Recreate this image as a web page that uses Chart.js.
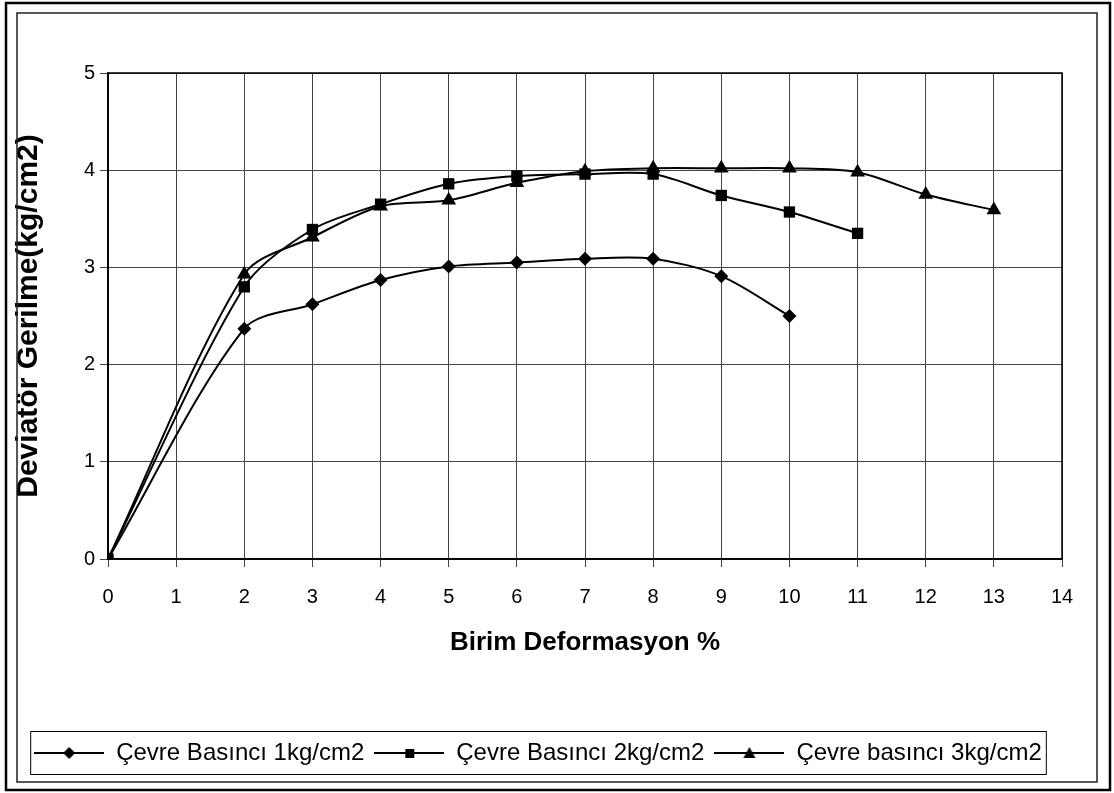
<!DOCTYPE html>
<html>
<head>
<meta charset="utf-8">
<script src="https://cdn.jsdelivr.net/npm/chart.js@4"></script>
<style>
  html, body { margin: 0; padding: 0; background: #fff; }
  #wrap { width: 1114px; height: 793px; }
</style>
</head>
<body>
<div id="wrap"><canvas id="myChart" width="1114" height="793"></canvas></div>
<script>
// strain (%) and deviator stress (kg/cm2)
const strain1 = [0, 2, 3, 4, 5, 6, 7, 8, 9, 10];
const stress1 = [0, 2.37, 2.62, 2.87, 3.01, 3.05, 3.09, 3.09, 2.91, 2.50];

const strain2 = [0, 2, 3, 4, 5, 6, 7, 8, 9, 10, 11];
const stress2 = [0, 2.80, 3.39, 3.65, 3.86, 3.94, 3.96, 3.96, 3.74, 3.57, 3.35];

const strain3 = [0, 2, 3, 4, 5, 6, 7, 8, 9, 10, 11, 12, 13];
const stress3 = [0, 2.93, 3.31, 3.63, 3.69, 3.87, 3.99, 4.02, 4.02, 4.02, 3.98, 3.75, 3.59];

const seriesNames = ['Çevre Basıncı 1kg/cm2', 'Çevre Basıncı 2kg/cm2', 'Çevre basıncı 3kg/cm2'];
const xTitle = 'Birim Deformasyon %';
const yTitle = 'Deviatör Gerilme(kg/cm2)';

const toPoints = (xs, ys) => xs.map((x, i) => ({x: x, y: ys[i]}));

// legend sample: short line with the marker in the middle
const legendIcon = (shape) => {
  const c = document.createElement('canvas');
  c.width = 70; c.height = 20;
  const g = c.getContext('2d');
  g.strokeStyle = '#000';
  g.lineWidth = 2;
  g.beginPath(); g.moveTo(0, 10); g.lineTo(70, 10); g.stroke();
  g.fillStyle = '#000';
  g.beginPath();
  if (shape === 'diamond') {
    g.moveTo(35, 4); g.lineTo(41, 10); g.lineTo(35, 16); g.lineTo(29, 10);
  } else if (shape === 'square') {
    g.rect(31, 6, 9, 9);
  } else {
    g.moveTo(35, 4); g.lineTo(41, 15); g.lineTo(29, 15);
  }
  g.closePath(); g.fill();
  return c;
};
const icons = [legendIcon('diamond'), legendIcon('square'), legendIcon('triangle')];

const framePlugin = {
  id: 'frame',
  beforeDraw(chart) {
    const ctx = chart.ctx;
    ctx.save();
    ctx.fillStyle = '#fff';
    ctx.fillRect(0, 0, chart.width, chart.height);
    ctx.restore();
  },
  beforeDatasetsDraw(chart) {
    const ctx = chart.ctx;
    const a = chart.chartArea;
    ctx.save();
    ctx.strokeStyle = '#000';
    ctx.lineWidth = 1.5;
    ctx.strokeRect(a.left, a.top, a.right - a.left, a.bottom - a.top);
    ctx.restore();
  },
  afterDraw(chart) {
    const ctx = chart.ctx;
    ctx.save();
    // outer frame
    ctx.strokeStyle = '#000';
    ctx.lineWidth = 2.5;
    ctx.strokeRect(6, 3, 1104, 787);
    ctx.lineWidth = 1.5;
    ctx.strokeStyle = '#222';
    ctx.strokeRect(17, 13, 1080, 769);
    // legend box
    const lg = chart.legend;
    if (lg && lg.legendHitBoxes.length) {
      const hb = lg.legendHitBoxes;
      const l = Math.min(...hb.map(h => h.left)) - 4;
      const r = Math.max(...hb.map(h => h.left + h.width)) + 4;
      ctx.lineWidth = 1;
      ctx.strokeStyle = '#000';
      ctx.strokeRect(l + 0.5, lg.top + 0.5, r - l, lg.bottom - lg.top - 1);
    }
    ctx.restore();
  }
};

const makeSet = (label, xs, ys, style, radius) => ({
  label: label,
  data: toPoints(xs, ys),
  showLine: true,
  tension: 0.3,
  borderColor: '#000',
  backgroundColor: '#000',
  borderWidth: 2,
  pointStyle: style,
  pointRadius: radius,
  pointHoverRadius: radius,
  pointBackgroundColor: '#000',
  pointBorderColor: '#000',
  pointBorderWidth: 0
});

const ctx = document.getElementById('myChart').getContext('2d');
new Chart(ctx, {
  type: 'scatter',
  data: {
    datasets: [
      makeSet(seriesNames[0], strain1, stress1, 'rectRot', 7),
      makeSet(seriesNames[1], strain2, stress2, 'rect', 8),
      makeSet(seriesNames[2], strain3, stress3, 'triangle', 8.5)
    ]
  },
  options: {
    responsive: false,
    animation: false,
    layout: { padding: { left: 14, right: 52, top: 73, bottom: 18 } },
    plugins: {
      tooltip: { enabled: false },
      legend: {
        position: 'bottom',
        labels: {
          color: '#000',
          font: { family: 'Liberation Sans, Arial', size: 24 },
          usePointStyle: true,
          pointStyleWidth: 70,
          padding: 10,
          generateLabels: (chart) => chart.data.datasets.map((ds, i) => ({
            text: ds.label,
            pointStyle: icons[i],
            datasetIndex: i,
            fontColor: '#000',
            lineWidth: 0,
            hidden: false
          }))
        }
      }
    },
    scales: {
      x: {
        type: 'linear',
        min: 0,
        max: 14,
        afterFit: (axis) => { axis.height = 172; },
        ticks: {
          stepSize: 1,
          color: '#000',
          padding: 18,
          font: { family: 'Liberation Sans, Arial', size: 20 }
        },
        grid: { color: '#444', lineWidth: 1, tickLength: 8 },
        border: { color: '#000', width: 1.5 },
        title: {
          display: true,
          text: xTitle,
          color: '#000',
          font: { family: 'Liberation Sans, Arial', size: 26, weight: 'bold' },
          padding: { top: 0, bottom: 73 }
        }
      },
      y: {
        min: 0,
        max: 5,
        afterFit: (axis) => { axis.width = 94; },
        ticks: {
          stepSize: 1,
          color: '#000',
          padding: 5,
          font: { family: 'Liberation Sans, Arial', size: 20 }
        },
        grid: { color: '#444', lineWidth: 1, tickLength: 8 },
        border: { color: '#000', width: 1.5 },
        title: {
          display: true,
          text: yTitle,
          color: '#000',
          font: { family: 'Liberation Sans, Arial', size: 30, weight: 'bold', lineHeight: 1 },
          padding: { top: 0, bottom: 0 }
        }
      }
    }
  },
  plugins: [framePlugin]
});
</script>
</body>
</html>
